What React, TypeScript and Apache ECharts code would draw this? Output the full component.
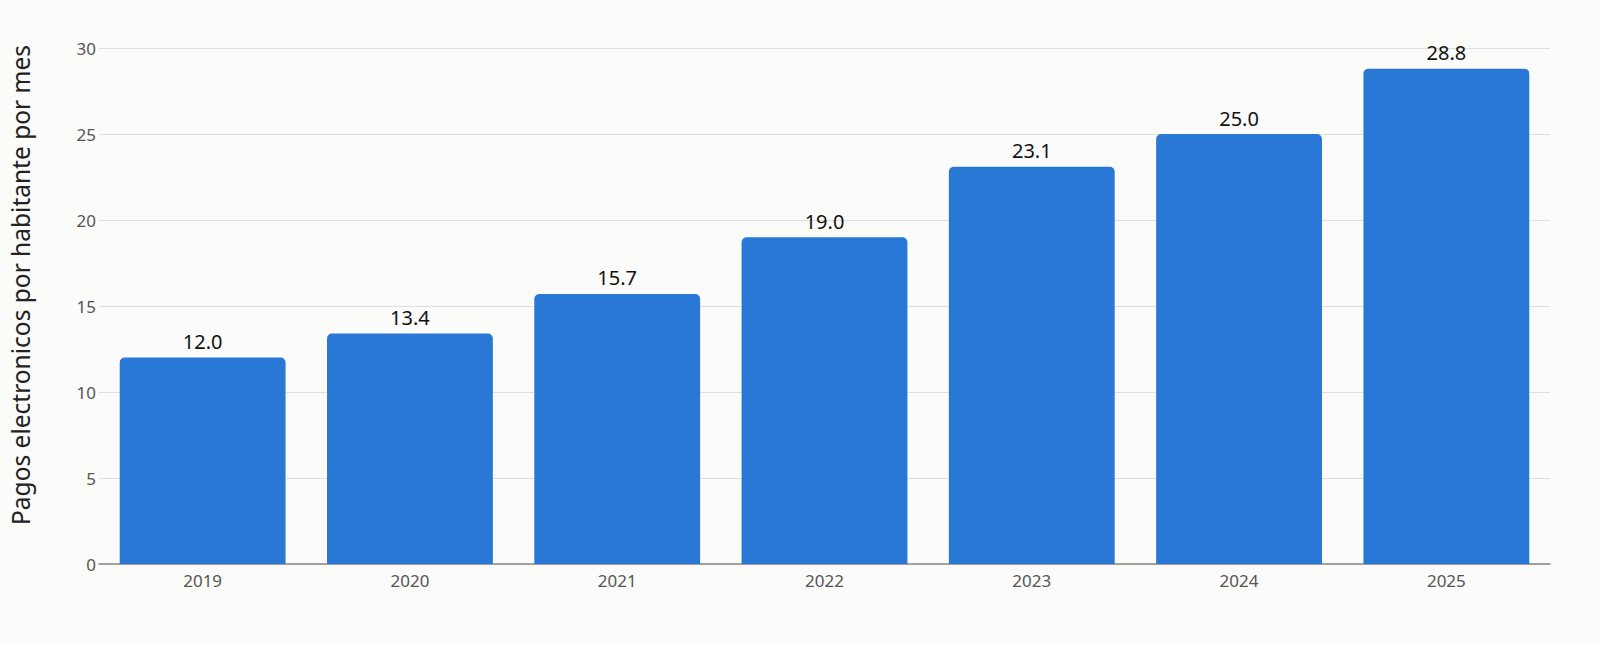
import React, { useEffect, useRef } from 'react';
import * as echarts from 'echarts';

const years = ['2019', '2020', '2021', '2022', '2023', '2024', '2025'];
const payments = [12.0, 13.4, 15.7, 19.0, 23.1, 25.0, 28.8];
const yTitle = 'Pagos electronicos por habitante por mes';

const App: React.FC = () => {
  const ref = useRef<HTMLDivElement>(null);

  useEffect(() => {
    document.body.style.margin = '0';
    if (!ref.current) return;
    const chart = echarts.init(ref.current, null, { renderer: 'svg' });

    const option: echarts.EChartsCoreOption = {
      animation: false,
      backgroundColor: '#fbfbf9',
      textStyle: { fontFamily: '"Noto Sans", sans-serif' },
      grid: { left: 99, right: 50, top: 48, bottom: 81 },
      // y-axis title sits a little above the plot's centre, so it's drawn as a graphic
      graphic: [
        {
          type: 'text',
          x: 20,
          y: 285,
          rotation: Math.PI / 2,
          style: {
            text: yTitle,
            fill: '#222222',
            fontSize: 24.5,
            fontFamily: '"Noto Sans", sans-serif',
            textAlign: 'center',
            textVerticalAlign: 'middle'
          }
        }
      ],
      xAxis: {
        type: 'category',
        data: years,
        axisLine: { lineStyle: { color: '#888888', width: 1.5 } },
        axisTick: { show: false },
        axisLabel: { color: '#555555', fontSize: 17, margin: 8 }
      },
      yAxis: {
        type: 'value',
        min: 0,
        max: 30,
        interval: 5,
        axisLine: { show: false },
        axisTick: { show: false },
        axisLabel: { color: '#555555', fontSize: 17, margin: 3 },
        splitLine: { lineStyle: { color: '#dfdfdb', width: 1.2 } }
      },
      series: [
        {
          type: 'bar',
          data: payments,
          barCategoryGap: '20%',
          itemStyle: { color: '#2a78d6', borderRadius: [5, 5, 0, 0] },
          label: {
            show: true,
            position: 'top',
            distance: 6,
            color: '#111111',
            fontSize: 20,
            formatter: (p: any) => Number(p.value).toFixed(1)
          }
        }
      ]
    };

    chart.setOption(option);
    return () => chart.dispose();
  }, []);

  return <div ref={ref} style={{ width: 1600, height: 645 }} />;
};

export default App;
